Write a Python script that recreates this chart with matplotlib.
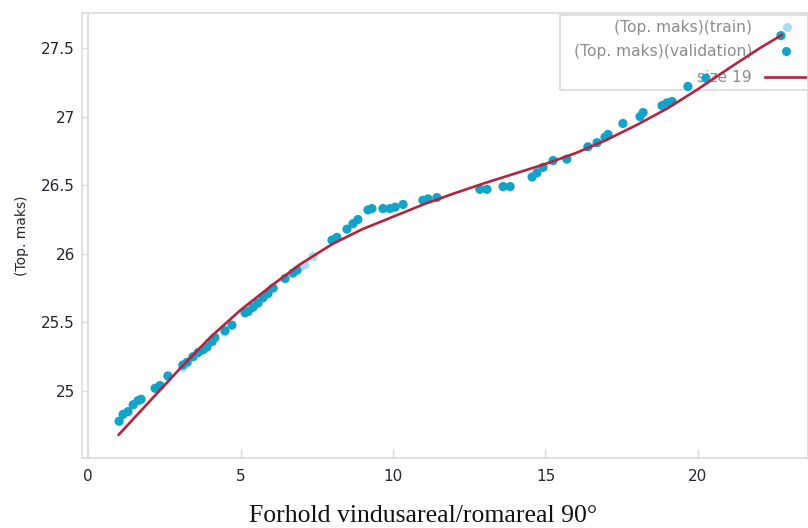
import matplotlib
matplotlib.use("Agg")
import matplotlib.pyplot as plt
from matplotlib.patches import Rectangle

# Validation observations: window/room area ratio vs. top value
val_x = [1.02, 1.15, 1.31, 1.48, 1.64, 1.74, 2.20, 2.36, 2.62, 3.11, 3.25, 3.44,
         3.61, 3.77, 3.90, 4.07, 4.16, 4.49, 4.72, 5.15, 5.25, 5.41, 5.57, 5.74,
         5.90, 6.07, 6.46, 6.72, 6.85, 8.00, 8.16, 8.49, 8.69, 8.85, 9.18, 9.31,
         9.67, 9.90, 10.07, 10.33, 10.98, 11.15, 11.44, 12.85, 13.08, 13.61, 13.84,
         14.56, 14.72, 14.92, 15.25, 15.70, 16.39, 16.69, 16.95, 17.05, 17.54,
         18.10, 18.20, 18.82, 18.98, 19.15, 19.67, 20.26, 22.72]
val_y = [24.78, 24.83, 24.85, 24.90, 24.93, 24.94, 25.02, 25.04, 25.11, 25.19,
         25.21, 25.25, 25.28, 25.30, 25.32, 25.36, 25.39, 25.44, 25.48, 25.57,
         25.58, 25.61, 25.64, 25.68, 25.71, 25.75, 25.82, 25.86, 25.88, 26.10,
         26.12, 26.18, 26.22, 26.25, 26.32, 26.33, 26.33, 26.33, 26.34, 26.36,
         26.39, 26.40, 26.41, 26.47, 26.47, 26.49, 26.49, 26.56, 26.59, 26.63,
         26.68, 26.69, 26.78, 26.81, 26.85, 26.87, 26.95, 27.00, 27.03, 27.08,
         27.10, 27.11, 27.22, 27.28, 27.59]

# Training observations (mostly hidden behind validation points)
train_x = [3.11, 4.49, 6.95, 7.11, 7.38]
train_y = [25.17, 25.43, 25.90, 25.92, 25.98]

# Fitted model curve ("size 19")
fit_x = [1.0, 2.0, 3.0, 4.0, 5.0, 6.0, 7.0, 8.0, 9.0, 10.0, 11.0, 12.0,
         13.0, 14.0, 15.0, 16.0, 17.0, 18.0, 19.0, 20.0, 21.0, 22.0, 22.75]
fit_y = [24.68, 24.92, 25.16, 25.39, 25.59, 25.765, 25.93, 26.07, 26.18,
         26.27, 26.36, 26.44, 26.515, 26.585, 26.655, 26.735, 26.83, 26.94,
         27.06, 27.20, 27.35, 27.495, 27.595]

x_ticks = [0, 5, 10, 15, 20]
y_ticks = [25, 25.5, 26, 26.5, 27, 27.5]
y_tick_labels = ["25", "25.5", "26", "26.5", "27", "27.5"]

legend_labels = ["(Top. maks)(train)", "(Top. maks)(validation)", "size 19"]

c_val = "#12a3c8"
c_train = "#a9dcec"
c_fit = "#b3243f"
c_grid = "#dadada"
c_text = "#262633"
c_legend_text = "#8c8c8c"

fig = plt.figure(figsize=(8.08, 5.28), dpi=100)
ax = fig.add_axes([82 / 808, 70 / 528, 726 / 808, 445 / 528])

ax.set_xlim(-0.197, 23.607)
ax.set_ylim(24.512, 27.755)

for side in ["left", "top", "right", "bottom"]:
    ax.spines[side].set_color(c_grid)
    ax.spines[side].set_linewidth(1.2)
ax.axvline(0, color=c_grid, lw=1.2, zorder=0.5)

ax.scatter(train_x, train_y, s=44, color=c_train, edgecolors="none", zorder=2)
ax.scatter(val_x, val_y, s=44, color=c_val, edgecolors="none", zorder=3)
ax.plot(fit_x, fit_y, color=c_fit, lw=1.9, zorder=4, solid_capstyle="round",
        solid_joinstyle="round")

ax.set_xticks(x_ticks)
ax.set_yticks(y_ticks)
ax.set_yticklabels(y_tick_labels)
ax.tick_params(axis="x", direction="in", length=6.5, width=1, color=c_grid,
               labelsize=11, labelcolor=c_text, pad=8)
ax.tick_params(axis="y", direction="in", length=4.5, width=1, color=c_grid,
               labelsize=11, labelcolor=c_text, pad=5)

ax.set_ylabel("(Top. maks)", fontsize=10, color=c_text, labelpad=9)
ax.set_xlabel("Forhold vindusareal/romareal 90°", fontsize=18.5,
              family="Liberation Serif", color="#111111")
ax.xaxis.set_label_coords(0.47, -0.105)

# Legend block drawn under the data
ax.add_patch(Rectangle((0.658, 0.827), 0.4, 0.1685, transform=ax.transAxes,
                       facecolor="none", edgecolor=c_grid, lw=1.2,
                       clip_on=False, zorder=1))
rows = [0.9685, 0.9146, 0.856]
for lab, yy in zip(legend_labels, rows):
    ax.text(0.923, yy, lab, transform=ax.transAxes, ha="right", va="center",
            fontsize=11.2, color=c_legend_text, zorder=1)
ax.plot([0.971], [rows[0]], "o", ms=6.5, color=c_train, mec="none",
        transform=ax.transAxes, clip_on=False, zorder=1)
ax.plot([0.970], [rows[1]], "o", ms=6.5, color=c_val, mec="none",
        transform=ax.transAxes, clip_on=False, zorder=1)
ax.plot([0.941, 1.0], [rows[2], rows[2]], color=c_fit, lw=1.9,
        transform=ax.transAxes, clip_on=False, zorder=1)

fig.savefig("out.png", dpi=100)
